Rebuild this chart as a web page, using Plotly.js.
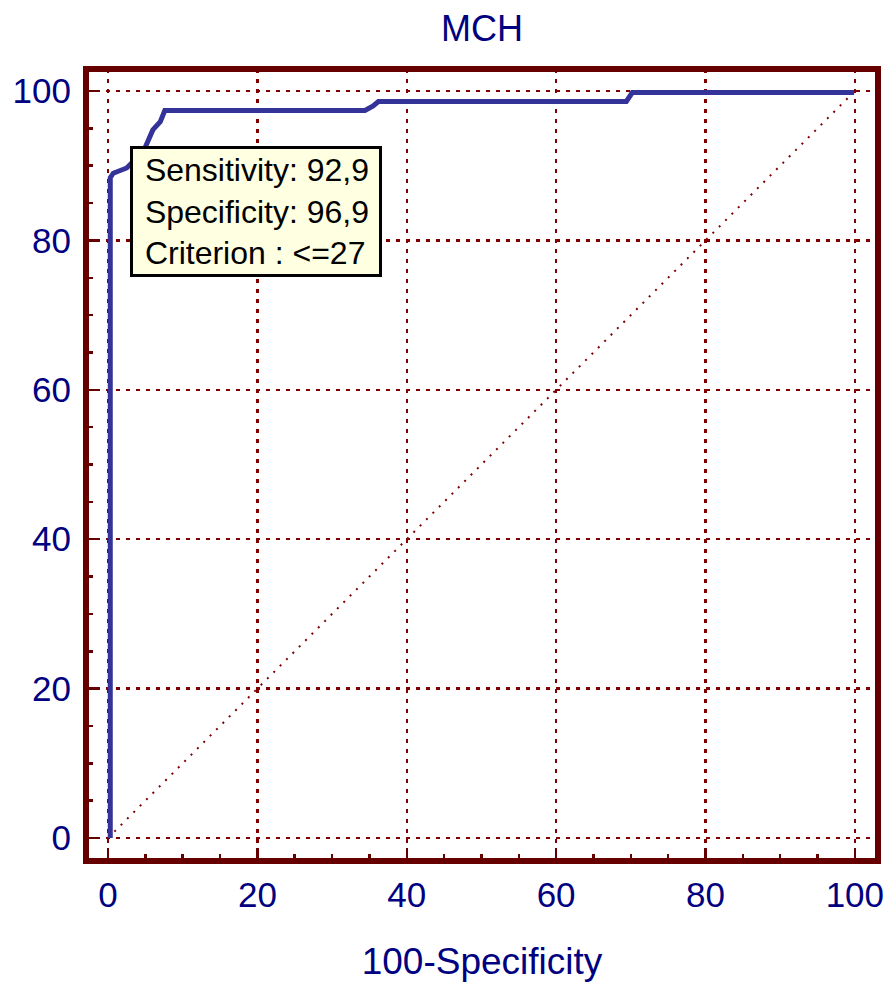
<!DOCTYPE html>
<html>
<head>
<meta charset="utf-8">
<script src="https://cdn.plot.ly/plotly-3.0.1.min.js"></script>
<style>
html,body{margin:0;padding:0;background:#fff;}
#chart{width:886px;height:982px;}
</style>
</head>
<body>
<div id="chart"></div>
<script>
// ROC curve (100-Specificity vs Sensitivity)
const fpr = [0.3, 0.3, 0.7, 2.5, 3.1, 4.3, 5.0, 5.4, 6.0, 7.0, 7.6, 34.4, 35.5, 36.2, 69.4, 70.2, 99.9];
const tpr = [0, 88.4, 89.0, 89.7, 90.3, 91.5, 92.5, 93.4, 94.8, 95.9, 97.4, 97.4, 98.0, 98.6, 98.6, 99.8, 99.8];
const diagX = [0, 100];
const diagY = [0, 100];
const tickVals = [0, 20, 40, 60, 80, 100];
const tickText = ['0', '20', '40', '60', '80', '100'];
const chartTitle = 'MCH';
const xTitle = '100-Specificity';
const sensitivity = 92.9;
const specificity = 96.9;
const criterion = '<=27';

const navy = '#000080';
const frameRed = '#660000';
const gridRed = '#800000';
const fontFam = '"Liberation Sans", Arial, sans-serif';

const pad = '\u00a0';
const boxText = pad + 'Sensitivity: ' + sensitivity.toFixed(1).replace('.', ',') + '<br>' +
                pad + 'Specificity: ' + specificity.toFixed(1).replace('.', ',') + '<br>' +
                pad + 'Criterion : ' + criterion.replace('<', '&lt;');

const traces = [
  {x: diagX, y: diagY, mode: 'lines', line: {color: gridRed, width: 2, dash: '2px,7px'}, hoverinfo: 'skip'},
  {x: fpr, y: tpr, mode: 'lines', line: {color: '#333399', width: 5}}
];

const axisCommon = {
  range: [-2.95, 103.1],
  tickvals: tickVals, ticktext: tickText,
  showgrid: true, gridcolor: gridRed, gridwidth: 2.5, griddash: '4px,6px',
  zeroline: false, showline: false,
  ticks: 'inside', ticklen: 13, tickwidth: 2.5, tickcolor: frameRed,
  minor: {dtick: 5, tick0: 0, ticks: 'inside', ticklen: 7, tickwidth: 2.5, tickcolor: frameRed, showgrid: false},
  tickfont: {family: fontFam, size: 35, color: navy},
  fixedrange: true
};

const layout = {
  width: 886, height: 982,
  margin: {l: 86, r: 8, t: 69, b: 121},
  paper_bgcolor: '#ffffff', plot_bgcolor: '#ffffff',
  showlegend: false,
  title: {text: chartTitle, font: {family: fontFam, size: 36, color: navy}, x: 0.5, xref: 'paper', xanchor: 'center', y: 0.971, yanchor: 'middle'},
  xaxis: Object.assign({}, axisCommon, {
    title: {text: xTitle, font: {family: fontFam, size: 37, color: navy}, standoff: 38},
    ticklabelstandoff: 10
  }),
  yaxis: Object.assign({}, axisCommon, {
    range: [-3.08, 102.95],
    ticklabelstandoff: 14
  }),
  shapes: [
    {type: 'rect', xref: 'paper', yref: 'paper', x0: 0, x1: 1, y0: 0, y1: 1, line: {color: frameRed, width: 6}, fillcolor: 'rgba(0,0,0,0)', layer: 'above'}
  ],
  annotations: [
    {x: 100 - specificity, y: sensitivity, xref: 'x', yref: 'y', xanchor: 'left', yanchor: 'top',
     text: boxText, showarrow: false, align: 'left', width: 240,
     font: {family: fontFam, size: 32, color: '#000000'},
     bgcolor: '#FFFFE1', bordercolor: '#000000', borderwidth: 3, borderpad: 3,
     xshift: -1, yshift: -2}
  ]
};

Plotly.newPlot('chart', traces, layout, {displayModeBar: false, staticPlot: true});
</script>
</body>
</html>
